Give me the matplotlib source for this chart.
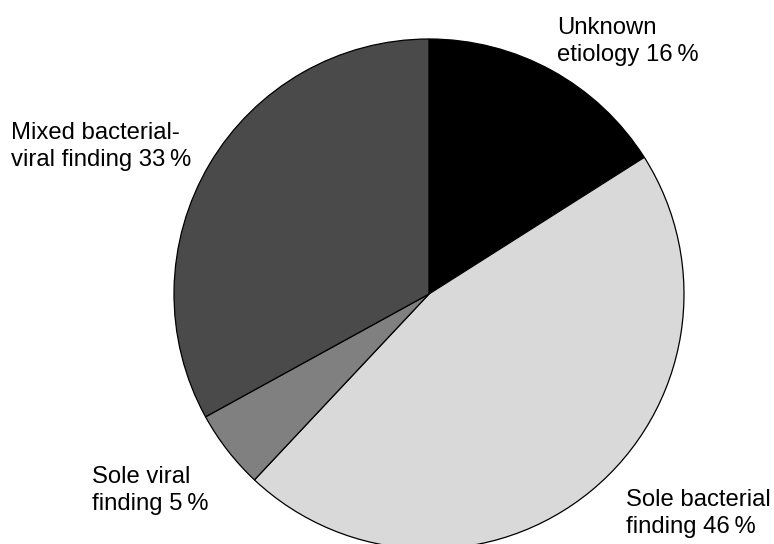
import matplotlib
matplotlib.use("Agg")
import matplotlib.pyplot as plt

plt.rcParams['font.family'] = ['Liberation Sans', 'DejaVu Sans']

categories = ["Unknown\netiology", "Sole bacterial\nfinding", "Sole viral\nfinding", "Mixed bacterial-\nviral finding"]
shares = [16, 46, 5, 33]
colors = ["#000000", "#d9d9d9", "#808080", "#4a4a4a"]

W, H = 774, 544
fig = plt.figure(figsize=(W / 100, H / 100), dpi=100)
ax = fig.add_axes([0, 0, 1, 1])

ax.pie(shares, colors=colors, startangle=90, counterclock=False,
       center=(429, H - 294), radius=255, frame=True,
       wedgeprops=dict(edgecolor='black', linewidth=0.9))
ax.set_xlim(0, W)
ax.set_ylim(0, H)
ax.set_aspect('equal')
ax.axis('off')

# label anchors (left edge, top of text), in pixels from the top-left
label_pos = [(557, 17), (626, 489), (92, 466), (11, 122)]
for cat, val, (x, y) in zip(categories, shares, label_pos):
    ax.text(x, H - y, f"{cat} {val}\u2009%", ha='left', va='top',
            fontsize=17.2, linespacing=1.28, color='black')

fig.savefig("out.png", dpi=100)
